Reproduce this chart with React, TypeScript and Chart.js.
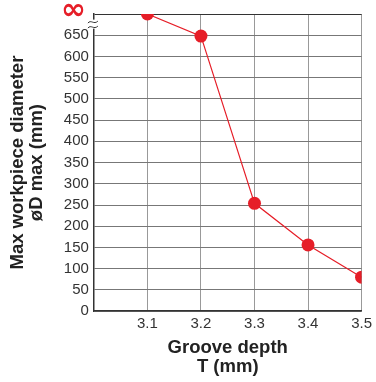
import React, { useEffect, useRef } from "react";
import { Chart, registerables } from "chart.js";

Chart.register(...registerables);

const grooveDepth = [3.1, 3.2, 3.3, 3.4, 3.5];
const maxDiameter = [700, 648, 254, 156, 80];
const xTickLabels = ["3.1", "3.2", "3.3", "3.4", "3.5"];
const yTickValues = [0, 50, 100, 150, 200, 250, 300, 350, 400, 450, 500, 550, 600, 650, 700];
const infinityValue = 700;
const infinityLabel = "∞";

const FONT = "Liberation Sans, Arial, Helvetica, sans-serif";

const breakPlugin = {
  id: "breakMark",
  afterDraw(chart: any) {
    const { ctx, scales } = chart;
    const x = scales.x.left;
    const y1 = scales.y.getPixelForValue(infinityValue);
    const y2 = scales.y.getPixelForValue(650);
    const mid = (y1 + y2) / 2;
    ctx.save();
    // infinity tick label
    ctx.fillStyle = "#e61e28";
    ctx.font = "bold 30px 'DejaVu Sans', sans-serif";
    ctx.textAlign = "right";
    ctx.textBaseline = "middle";
    ctx.fillText(infinityLabel, x - 8, y1 - 3);
    // axis break mark
    ctx.fillStyle = "#fff";
    ctx.fillRect(x - 2, mid - 5, 5, 9);
    ctx.strokeStyle = "#333";
    ctx.lineWidth = 1;
    for (const dy of [-2.5, 2.5]) {
      ctx.beginPath();
      const yy = mid + dy;
      ctx.moveTo(x - 6, yy + 1);
      ctx.bezierCurveTo(x - 3, yy - 3, x, yy + 3, x + 4, yy - 1);
      ctx.stroke();
    }
    ctx.restore();
  },
};

export default function App() {
  const ref = useRef<HTMLCanvasElement | null>(null);
  useEffect(() => {
    document.body.style.margin = "0";
    const chart = new Chart(ref.current as HTMLCanvasElement, {
      type: "scatter",
      data: {
        datasets: [
          {
            data: grooveDepth.map((x, i) => ({ x, y: maxDiameter[i] })),
            showLine: true,
            borderColor: "#e61e28",
            backgroundColor: "#e61e28",
            borderWidth: 1.2,
            pointRadius: 6.5,
            pointHoverRadius: 6.5,
            pointBorderWidth: 0,
          },
        ],
      },
      options: {
        animation: false,
        responsive: false,
        layout: { padding: { top: 1, right: 12, left: 4, bottom: 5 } },
        plugins: { legend: { display: false }, tooltip: { enabled: false } },
        scales: {
          x: {
            type: "linear",
            min: 3.0,
            max: 3.5,
            afterBuildTicks: (axis: any) => {
              axis.ticks = [3.0, ...grooveDepth].map((v) => ({ value: v }));
            },
            ticks: {
              autoSkip: false,
              maxRotation: 0,
              color: "#333",
              font: { family: FONT, size: 15 },
              padding: 4,
              callback: (v: any) => {
                const i = grooveDepth.findIndex((g) => Math.abs(g - v) < 1e-6);
                return i >= 0 ? xTickLabels[i] : "";
              },
            },
            grid: { color: "#999", drawTicks: false, lineWidth: 1 },
            border: { color: "#333", width: 1.5 },
            title: {
              display: true,
              text: ["Groove depth", "T (mm)"],
              color: "#222",
              font: { family: FONT, size: 18.5, weight: "bold", lineHeight: 1.05 },
              padding: { top: 1, bottom: 0 },
            },
          },
          y: {
            type: "linear",
            min: 0,
            max: infinityValue,
            afterBuildTicks: (axis: any) => {
              axis.ticks = yTickValues.map((v) => ({ value: v }));
            },
            ticks: {
              autoSkip: false,
              color: "#333",
              font: { family: FONT, size: 15 },
              padding: 5,
              callback: (v: any) => (v === infinityValue ? "" : String(v)),
            },
            grid: {
              color: (c: any) => (c.tick && c.tick.value === infinityValue ? "#333" : "#777"),
              drawTicks: false,
              lineWidth: 1,
            },
            border: { color: "#333", width: 1.5 },
            title: {
              display: true,
              text: ["Max workpiece diameter", "øD max (mm)"],
              color: "#222",
              font: { family: FONT, size: 18.5, weight: "bold", lineHeight: 1.05 },
              padding: { bottom: 12 },
            },
          },
        },
      },
      plugins: [breakPlugin],
    } as any);
    return () => chart.destroy();
  }, []);
  return (
    <div style={{ width: 376, height: 382 }}>
      <canvas ref={ref} width={376} height={382} />
    </div>
  );
}
